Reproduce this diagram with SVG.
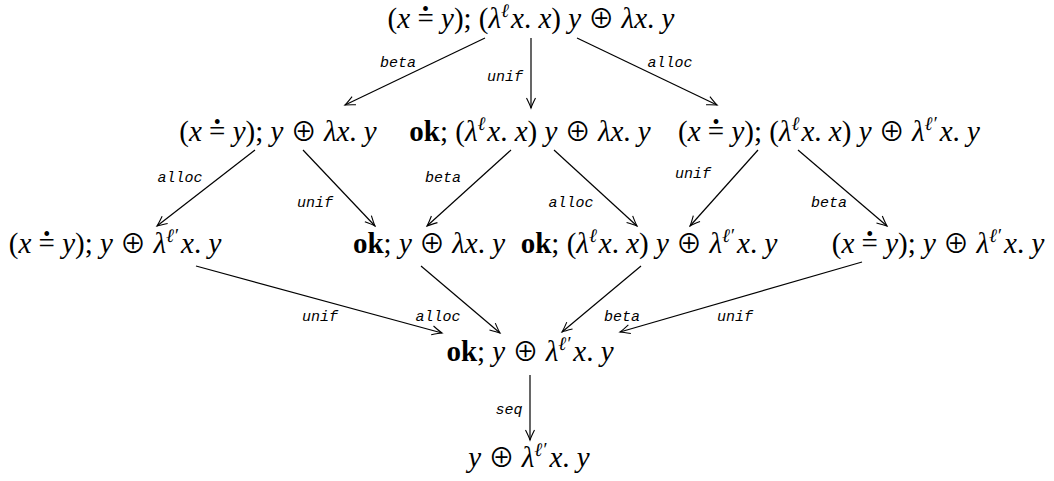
<svg xmlns="http://www.w3.org/2000/svg" width="1054" height="481" viewBox="0 0 1054 481">
<style>
.n{font-family:"Liberation Serif","DejaVu Serif",serif;font-size:29px;fill:#000;text-anchor:middle}
.i{font-style:italic}
.b{font-weight:bold}
.s{font-size:19px}
.d{font-size:20px}
.o{font-family:"Noto Sans CJK SC","DejaVu Sans",sans-serif;font-size:26px;font-style:normal;font-weight:normal}
.e{stroke:#000;stroke-width:1.2;fill:none;marker-end:url(#ah)}
.l{font-family:"Liberation Mono",monospace;font-style:italic;font-size:15px;fill:#000;text-anchor:middle}
</style>
<defs>
<marker id="ah" viewBox="-12 -6 14 12" refX="0" refY="0" markerWidth="14" markerHeight="12" markerUnits="userSpaceOnUse" orient="auto">
<path d="M-10,-4.5 Q-3,-1 0,0 Q-3,1 -10,4.5" fill="none" stroke="#000" stroke-width="1.1"/>
</marker>
</defs>
<rect width="1054" height="481" fill="#fff"/>
<g id="connectors">
<line class="e" x1="485" y1="38" x2="345" y2="105"/>
<line class="e" x1="531" y1="38" x2="531" y2="108"/>
<line class="e" x1="577" y1="38" x2="717" y2="105"/>
<line class="e" x1="255" y1="150" x2="157" y2="226"/>
<line class="e" x1="303" y1="150" x2="375" y2="226"/>
<line class="e" x1="511" y1="150" x2="427" y2="226"/>
<line class="e" x1="554" y1="150" x2="637" y2="226"/>
<line class="e" x1="758" y1="150" x2="690" y2="226"/>
<line class="e" x1="798" y1="150" x2="887" y2="226"/>
<line class="e" x1="196" y1="266" x2="442" y2="333"/>
<line class="e" x1="421" y1="266" x2="500" y2="333"/>
<line class="e" x1="641" y1="266" x2="562" y2="332"/>
<line class="e" x1="862" y1="262" x2="620" y2="332"/>
<line class="e" x1="530" y1="375" x2="530" y2="440"/>
<text class="l" x="398" y="67">beta</text>
<text class="l" x="505" y="81">unif</text>
<text class="l" x="670" y="67">alloc</text>
<text class="l" x="180" y="182">alloc</text>
<text class="l" x="315" y="207">unif</text>
<text class="l" x="443" y="182">beta</text>
<text class="l" x="571" y="207">alloc</text>
<text class="l" x="693" y="178">unif</text>
<text class="l" x="829" y="207">beta</text>
<text class="l" x="320" y="321">unif</text>
<text class="l" x="438" y="321">alloc</text>
<text class="l" x="622" y="321">beta</text>
<text class="l" x="735" y="321">unif</text>
<text class="l" x="509" y="414">seq</text>
</g>
<g id="n-top">
<text class="n" x="531" y="28">(<tspan class="i">x</tspan> =<tspan class="d" dx="-11.7" dy="-12">•</tspan><tspan dx="4.7" dy="12"> </tspan><tspan class="i">y</tspan>); (<tspan class="i">λ</tspan><tspan class="s i" dy="-11">ℓ</tspan><tspan class="i" dx="2" dy="11">x</tspan>. <tspan class="i">x</tspan>) <tspan class="i">y</tspan> <tspan class="o">⊕</tspan> <tspan class="i">λx</tspan>. <tspan class="i">y</tspan></text>
</g>
<g id="n-a">
<text class="n" x="278" y="141">(<tspan class="i">x</tspan> =<tspan class="d" dx="-11.7" dy="-12">•</tspan><tspan dx="4.7" dy="12"> </tspan><tspan class="i">y</tspan>); <tspan class="i">y</tspan> <tspan class="o">⊕</tspan> <tspan class="i">λx</tspan>. <tspan class="i">y</tspan></text>
</g>
<g id="n-b">
<text class="n" x="530" y="141"><tspan class="b">ok</tspan>; (<tspan class="i">λ</tspan><tspan class="s i" dy="-11">ℓ</tspan><tspan class="i" dx="2" dy="11">x</tspan>. <tspan class="i">x</tspan>) <tspan class="i">y</tspan> <tspan class="o">⊕</tspan> <tspan class="i">λx</tspan>. <tspan class="i">y</tspan></text>
</g>
<g id="n-c">
<text class="n" x="829" y="141">(<tspan class="i">x</tspan> =<tspan class="d" dx="-11.7" dy="-12">•</tspan><tspan dx="4.7" dy="12"> </tspan><tspan class="i">y</tspan>); (<tspan class="i">λ</tspan><tspan class="s i" dy="-11">ℓ</tspan><tspan class="i" dx="2" dy="11">x</tspan>. <tspan class="i">x</tspan>) <tspan class="i">y</tspan> <tspan class="o">⊕</tspan> <tspan class="i">λ</tspan><tspan class="s i" dy="-11">ℓ′</tspan><tspan class="i" dx="3" dy="11">x</tspan>. <tspan class="i">y</tspan></text>
</g>
<g id="n-d">
<text class="n" x="115" y="253">(<tspan class="i">x</tspan> =<tspan class="d" dx="-11.7" dy="-12">•</tspan><tspan dx="4.7" dy="12"> </tspan><tspan class="i">y</tspan>); <tspan class="i">y</tspan> <tspan class="o">⊕</tspan> <tspan class="i">λ</tspan><tspan class="s i" dy="-11">ℓ′</tspan><tspan class="i" dx="3" dy="11">x</tspan>. <tspan class="i">y</tspan></text>
</g>
<g id="n-e">
<text class="n" x="429" y="253"><tspan class="b">ok</tspan>; <tspan class="i">y</tspan> <tspan class="o">⊕</tspan> <tspan class="i">λx</tspan>. <tspan class="i">y</tspan></text>
</g>
<g id="n-f">
<text class="n" x="649" y="253"><tspan class="b">ok</tspan>; (<tspan class="i">λ</tspan><tspan class="s i" dy="-11">ℓ</tspan><tspan class="i" dx="2" dy="11">x</tspan>. <tspan class="i">x</tspan>) <tspan class="i">y</tspan> <tspan class="o">⊕</tspan> <tspan class="i">λ</tspan><tspan class="s i" dy="-11">ℓ′</tspan><tspan class="i" dx="3" dy="11">x</tspan>. <tspan class="i">y</tspan></text>
</g>
<g id="n-g">
<text class="n" x="938" y="253">(<tspan class="i">x</tspan> =<tspan class="d" dx="-11.7" dy="-12">•</tspan><tspan dx="4.7" dy="12"> </tspan><tspan class="i">y</tspan>); <tspan class="i">y</tspan> <tspan class="o">⊕</tspan> <tspan class="i">λ</tspan><tspan class="s i" dy="-11">ℓ′</tspan><tspan class="i" dx="3" dy="11">x</tspan>. <tspan class="i">y</tspan></text>
</g>
<g id="n-h">
<text class="n" x="530" y="361"><tspan class="b">ok</tspan>; <tspan class="i">y</tspan> <tspan class="o">⊕</tspan> <tspan class="i">λ</tspan><tspan class="s i" dy="-11">ℓ′</tspan><tspan class="i" dx="3" dy="11">x</tspan>. <tspan class="i">y</tspan></text>
</g>
<g id="n-i">
<text class="n" x="529" y="467"><tspan class="i">y</tspan> <tspan class="o">⊕</tspan> <tspan class="i">λ</tspan><tspan class="s i" dy="-11">ℓ′</tspan><tspan class="i" dx="3" dy="11">x</tspan>. <tspan class="i">y</tspan></text>
</g>
</svg>
